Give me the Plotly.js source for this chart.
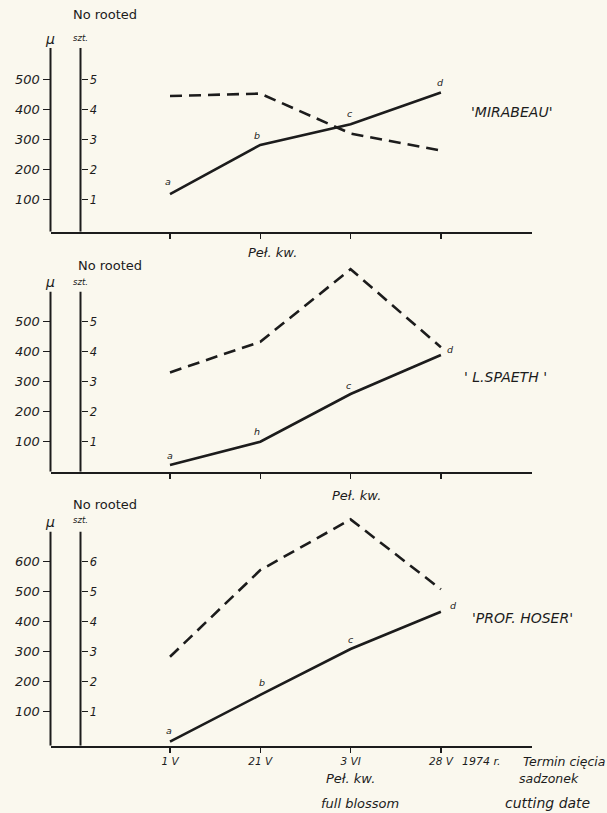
<!DOCTYPE html>
<html>
<head>
<meta charset="utf-8">
<script src="https://cdn.plot.ly/plotly-3.0.1.min.js"></script>
<style>html,body{margin:0;padding:0;background:#faf8ee;}</style>
</head>
<body>
<div id="chart" style="width:607px;height:813px;"></div>
<script>
// ---- data ----
const dates = ['1 V', '21 V', '3 VI', '28 V'];
const pointLetters = ['a', 'b', 'c', 'd'];
const spaethLetters = ['a', 'h', 'c', 'd'];
const varieties = ["'MIRABEAU'", "' L.SPAETH '", "'PROF. HOSER'"];
const mirabeauLength = [118, 282, 351, 457];
const mirabeauRooted = [4.45, 4.53, 3.2, 2.63];
const spaethLength = [22, 100, 259, 389];
const spaethRooted = [3.31, 4.33, 6.75, 4.15];
const hoserLength = [0, 156, 309, 433];
const hoserRooted = [2.83, 5.72, 7.41, 5.08];
const lengthTicksTop = [100, 200, 300, 400, 500];
const rootTicksTop = [1, 2, 3, 4, 5];
const lengthTicksBottom = [100, 200, 300, 400, 500, 600];
const rootTicksBottom = [1, 2, 3, 4, 5, 6];

// ---- layout helpers (pixel -> paper) ----
const W = 607, H = 813;
const px = x => x / W;
const py = y => 1 - y / H;
const ink = '#1c1c1c';
const FONT = 'DejaVu Sans, Liberation Sans, sans-serif';
const italic = (size) => ({family: FONT, size: size, color: ink, style: 'italic'});

// panel geometry: baseline pixel, zero pixel, domain top pixel, axis-line top pixel
const panels = [
  {base: 231.7, zero: 229.5, top: 40, lineTop: 48,
   len: mirabeauLength, root: mirabeauRooted, lt: lengthTicksTop, rt: rootTicksTop, letters: pointLetters},
  {base: 471.7, zero: 471.7, top: 262, lineTop: 291.7,
   len: spaethLength, root: spaethRooted, lt: lengthTicksTop, rt: rootTicksTop, letters: spaethLetters},
  {base: 745.7, zero: 741.7, top: 515, lineTop: 531.7,
   len: hoserLength, root: hoserRooted, lt: lengthTicksBottom, rt: rootTicksBottom, letters: pointLetters}
];
const PXPER = 0.3; // pixels per micron unit (30 px per 100)
const muX = 50.5, sztX = 80.5, axRight = 532;
const xIdx0 = 170, xStep = 90.3;
const xRange = [(muX - xIdx0) / xStep, (axRight - xIdx0) / xStep];

const traces = [];
const layout = {
  width: W, height: H,
  margin: {l: 0, r: 0, t: 0, b: 0},
  paper_bgcolor: '#faf8ee', plot_bgcolor: 'rgba(0,0,0,0)',
  showlegend: false,
  font: {family: FONT, color: ink},
  shapes: [], annotations: []
};

// label offsets (style only)
const letterShift = [
  [[-2, 13], [-3, 9], [-1, 11], [0, 10]],
  [[0, 10], [-3, 10], [-2, 9], [10, 6]],
  [[-1, 11], [2, 12], [0, 10], [13, 6]]
];

function note(x, y, text, font, xanchor) {
  layout.annotations.push({xref: 'paper', yref: 'paper', x: px(x), y: py(y), text: text,
    xanchor: xanchor || 'center', yanchor: 'middle', showarrow: false, font: font});
}

panels.forEach((p, i) => {
  const n = i + 1;
  const xa = 'xaxis' + (n === 1 ? '' : n);
  const xr = 'x' + (n === 1 ? '' : n);
  const yMu = 2 * i + 1, ySz = 2 * i + 2;
  const yMuName = 'yaxis' + (yMu === 1 ? '' : yMu);
  const yMuRef = 'y' + (yMu === 1 ? '' : yMu);
  const ySzName = 'yaxis' + ySz;
  const ySzRef = 'y' + ySz;
  const rLo = (p.zero - p.base) / PXPER;
  const rHi = (p.zero - p.top) / PXPER;
  const lineHi = (p.zero - p.lineTop) / PXPER;

  layout[xa] = {
    domain: [px(muX), px(axRight)], anchor: yMuRef,
    type: 'category', categoryarray: dates, range: xRange,
    showline: true, linecolor: ink, linewidth: 2,
    ticks: 'outside', ticklen: 5, tickwidth: 1.5, tickcolor: ink,
    showticklabels: i === 2, tickfont: italic(10.5),
    showgrid: false, zeroline: false, fixedrange: true
  };
  layout[yMuName] = {
    domain: [py(p.base), py(p.top)], anchor: 'free', position: px(muX), side: 'left',
    range: [rLo, rHi], tickvals: p.lt, ticks: 'outside', ticklen: 8, tickwidth: 1.5, tickcolor: ink,
    tickfont: italic(13), showline: false, showgrid: false, zeroline: false, fixedrange: true
  };
  layout[ySzName] = {
    overlaying: yMuRef, anchor: 'free', position: px(sztX), side: 'right',
    range: [rLo / 100, rHi / 100], tickvals: p.rt, ticks: 'outside', ticklen: 6, tickwidth: 1.5, tickcolor: ink,
    tickfont: italic(11.5), showline: false, showgrid: false, zeroline: false, fixedrange: true
  };
  // vertical axis lines (shorter than the plotting area)
  [muX, sztX].forEach(x => {
    layout.shapes.push({type: 'line', xref: 'paper', yref: yMuRef, x0: px(x), x1: px(x),
      y0: rLo, y1: lineHi, line: {color: ink, width: 2}});
  });

  traces.push({x: dates, y: p.len, xaxis: xr, yaxis: yMuRef, mode: 'lines',
    line: {color: ink, width: 2.6}, hoverinfo: 'skip'});
  traces.push({x: dates, y: p.root, xaxis: xr, yaxis: ySzRef, mode: 'lines',
    line: {color: ink, width: 2.6, dash: '12px,7px'}, hoverinfo: 'skip'});

  p.letters.forEach((L, k) => {
    layout.annotations.push({x: dates[k], y: p.len[k], xref: xr, yref: yMuRef, text: L,
      xanchor: 'center', yanchor: 'middle',
      showarrow: false, font: italic(9.5), xshift: letterShift[i][k][0], yshift: letterShift[i][k][1]});
  });
});

// axis captions
const capY = [[15, 39, 38], [265, 282, 282], [504, 521.7, 520]];
const capX = [105, 110, 105];
capY.forEach((c, i) => {
  note(capX[i], c[0], 'No rooted', {family: FONT, size: 13, color: ink});
  note(50, c[1], 'μ', italic(14));
  note(80, c[2], 'szt.', italic(8.5));
});

// variety names
[[511, 111.7], [505, 376.7], [522, 618]].forEach((pos, i) => note(pos[0], pos[1], varieties[i], italic(14)));

// "Peł. kw." markers
[[272, 252.7], [356, 495], [350, 778]].forEach(pos => note(pos[0], pos[1], 'Peł. kw.', italic(13)));

const extraText = [
  ['1974 r.', 481, 761.7, 'center', 11],
  ['Termin cięcia', 521, 761.7, 'left', 12.5],
  ['sadzonek', 549, 778, 'center', 12.5],
  ['full blossom', 360, 803, 'center', 13],
  ['cutting date', 547, 803, 'center', 14]
];
extraText.forEach(t => note(t[1], t[2], t[0], italic(t[4]), t[3]));

Plotly.newPlot('chart', traces, layout, {staticPlot: true, displayModeBar: false});
</script>
</body>
</html>
